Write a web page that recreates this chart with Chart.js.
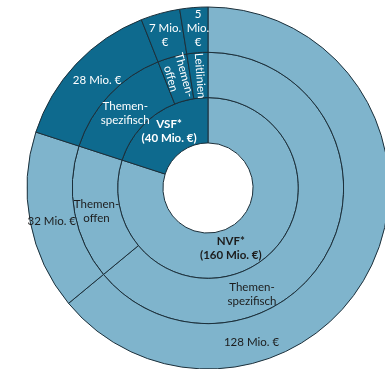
<!DOCTYPE html>
<html>
<head>
<meta charset="utf-8">
<script src="https://cdn.jsdelivr.net/npm/chart.js@4"></script>
<style>
  html, body { margin: 0; padding: 0; background: #fff; overflow: hidden; }
  #wrap { position: absolute; left: 0; top: 0; }
</style>
</head>
<body>
<div id="wrap"><canvas id="fundChart" width="416" height="376"></canvas></div>
<script>
// Funding split (Mio. €)
const fundNames = ['NVF*', 'VSF*'];
const fundValues = [160, 40];

const lineNames = ['Themenspezifisch', 'Themenoffen', 'Themenspezifisch', 'Themenoffen', 'Leitlinien'];
const lineValues = [128, 32, 28, 7, 5];
const lineFund = [0, 0, 1, 1, 1]; // which fund each line belongs to

const fundColors = ['#7fb4cc', '#0e6a8e'];
const textColors = ['#1c1c1c', '#ffffff'];

// label texts for each ring
const fundText = [['NVF*', '(160 Mio. €)'], ['VSF*', '(40 Mio. €)']];
const lineText = [['Themen-', 'spezifisch'], ['Themen-', 'offen'], ['Themen-', 'spezifisch'], ['Themen-', 'offen'], ['Leitlinien']];
const amountText = [['128 Mio. €'], ['32 Mio. €'], ['28 Mio. €'], ['7 Mio.', '€'], ['5', 'Mio.', '€']];

// placement inside each arc: t = along angle, r = across ring
const fundPos = [{t: 0.553, r: 0.43}, {t: 0.52, r: 0.52}];
const linePos = [{t: 0.684, r: 0.55}, {t: 0.48, r: 0.52}, {t: 0.48, r: 0.47}, {t: 0.5, r: 0.55, rot: true}, {t: 0.55, r: 0.49, rot: true}];
const amountPos = [{t: 0.713, r: 0.55}, {t: 0.48, r: 0.53}, {t: 0.52, r: 0.42}, {t: 0.47, r: 0.51}, {t: 0.6, r: 0.53}];

const lineColors = lineFund.map(f => fundColors[f]);

const ringLabels = {
    id: 'ringLabels',
    afterDatasetsDraw(chart) {
        const ctx = chart.ctx;
        const rings = [
            {ds: 0, texts: amountText, pos: amountPos, fund: lineFund, bold: false},
            {ds: 1, texts: lineText, pos: linePos, fund: lineFund, bold: false},
            {ds: 2, texts: fundText, pos: fundPos, fund: [0, 1], bold: true}
        ];
        ctx.save();
        ctx.textAlign = 'center';
        ctx.textBaseline = 'middle';
        rings.forEach(ring => {
            const arcs = chart.getDatasetMeta(ring.ds).data;
            arcs.forEach((arc, i) => {
                const p = arc.getProps(['x', 'y', 'startAngle', 'endAngle', 'innerRadius', 'outerRadius'], true);
                const pos = ring.pos[i];
                const a = p.startAngle + pos.t * (p.endAngle - p.startAngle);
                const rad = p.innerRadius + pos.r * (p.outerRadius - p.innerRadius);
                const lines = ring.texts[i];
                const lh = 14;
                ctx.save();
                ctx.translate(p.x + Math.cos(a) * rad, p.y + Math.sin(a) * rad);
                if (pos.rot) ctx.rotate(a + Math.PI);
                ctx.fillStyle = textColors[ring.fund[i]];
                ctx.font = (ring.bold ? 'bold ' : '') + '11.5px Lato, "Open Sans", sans-serif';
                lines.forEach((s, k) => {
                    ctx.fillText(s, 0, (k - (lines.length - 1) / 2) * lh);
                });
                ctx.restore();
            });
        });
        ctx.restore();
    }
};

const ctx = document.getElementById('fundChart').getContext('2d');
new Chart(ctx, {
    type: 'doughnut',
    data: {
        labels: lineNames,
        datasets: [
            {
                label: 'Betrag',
                data: lineValues,
                backgroundColor: lineColors,
                borderColor: '#1b2f3a',
                borderWidth: 1
            },
            {
                label: 'Förderlinie',
                data: lineValues,
                backgroundColor: lineColors,
                borderColor: '#1b2f3a',
                borderWidth: 1
            },
            {
                label: 'Fonds',
                data: fundValues,
                backgroundColor: fundColors,
                borderColor: '#1b2f3a',
                borderWidth: 1
            }
        ]
    },
    options: {
        responsive: false,
        animation: false,
        devicePixelRatio: 1,
        radius: 181,
        cutout: '24.9%',
        hoverOffset: 0,
        plugins: {
            legend: { display: false },
            tooltip: { enabled: false }
        }
    },
    plugins: [ringLabels]
});
</script>
</body>
</html>
